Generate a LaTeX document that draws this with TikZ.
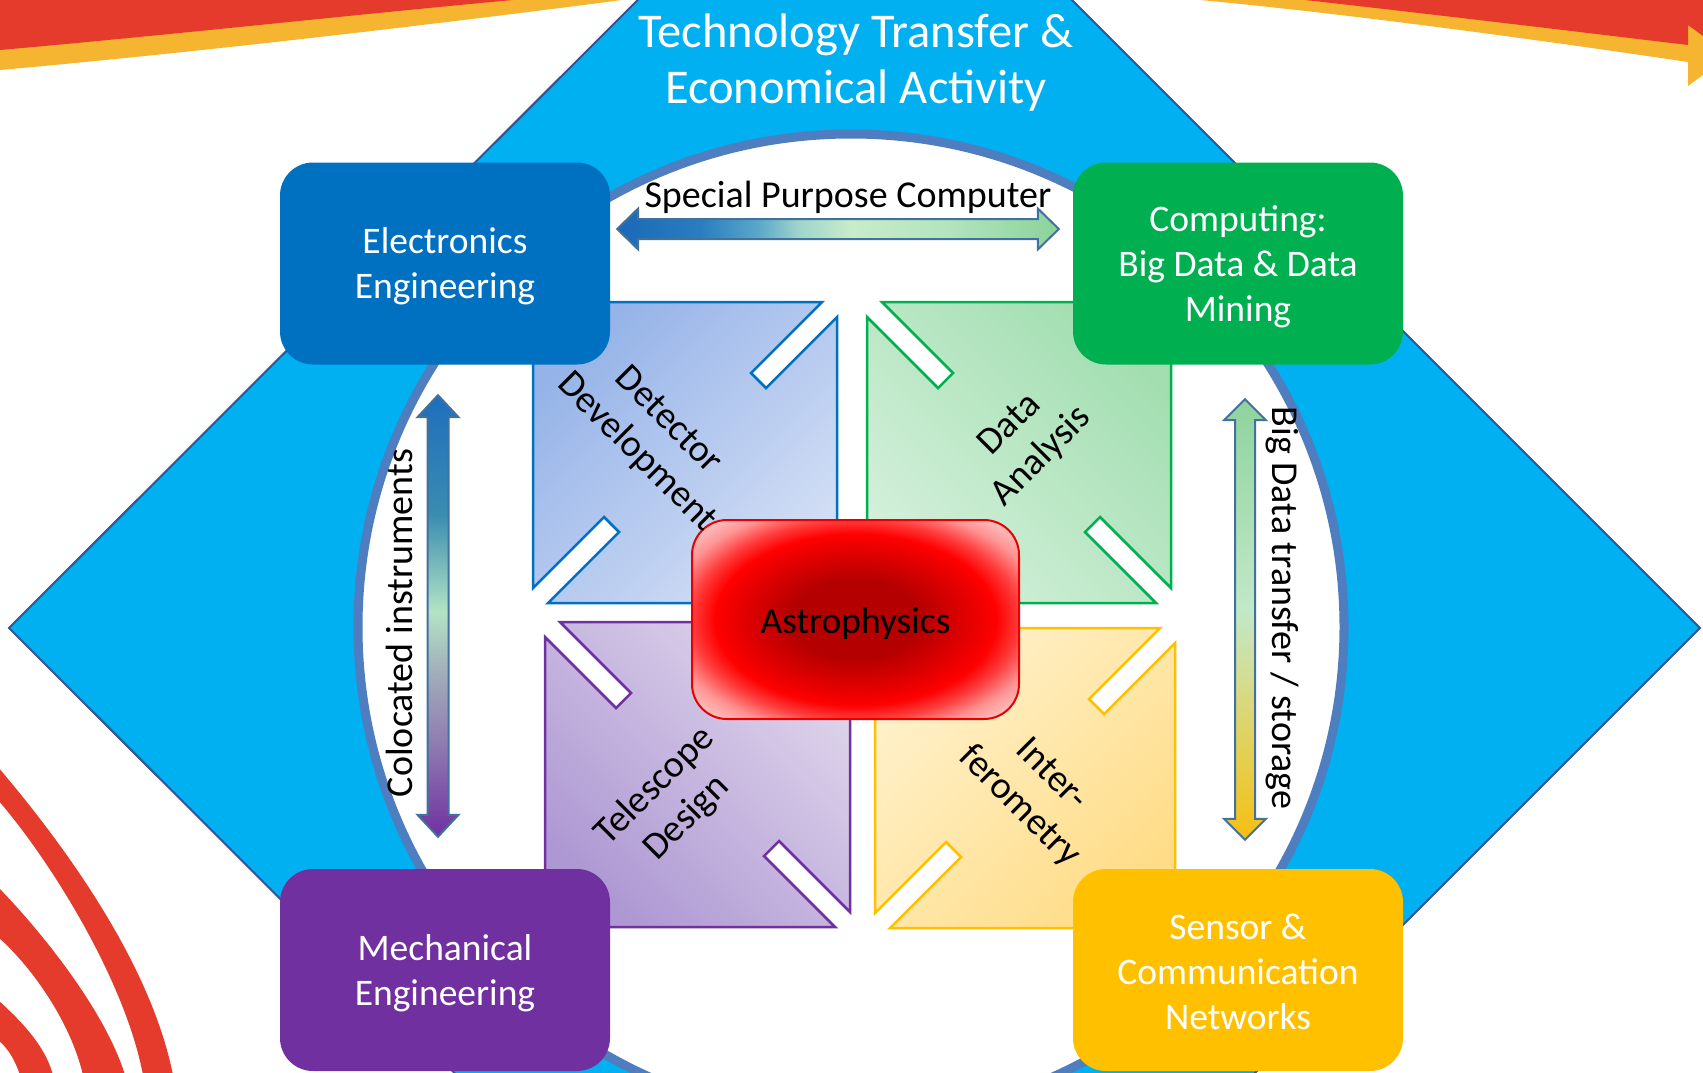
\documentclass[tikz,border=0pt]{standalone}
\usepackage{fontspec}
\setmainfont{Carlito}
\usetikzlibrary{calc}
\definecolor{dia}{HTML}{00B0F0}
\definecolor{diaedge}{HTML}{2F5597}
\definecolor{ringc}{HTML}{4F7EC0}
\definecolor{swred}{HTML}{E53B2C}
\definecolor{sworg}{HTML}{F6B530}
\definecolor{ebl}{HTML}{0070C0}
\definecolor{egr}{HTML}{00B050}
\definecolor{epu}{HTML}{7030A0}
\definecolor{eye}{HTML}{FFC000}
\definecolor{arredge}{HTML}{41719C}
\definecolor{astedge}{HTML}{E80000}
\definecolor{sqBdk}{HTML}{95B3E8}
\definecolor{sqBlt}{HTML}{D2DEF5}
\definecolor{sqGdk}{HTML}{A2DEB0}
\definecolor{sqGlt}{HTML}{D3F0DA}
\definecolor{sqPdk}{HTML}{AE98D3}
\definecolor{sqPlt}{HTML}{DED4EB}
\definecolor{sqYdk}{HTML}{FFDD88}
\definecolor{sqYlt}{HTML}{FFF1CB}
% arrow gradient colours
\definecolor{hA}{HTML}{1A68B8}
\definecolor{hB}{HTML}{2A7EC0}
\definecolor{hC}{HTML}{5AA8C8}
\definecolor{hD}{HTML}{9FD4CB}
\definecolor{hE}{HTML}{C8ECCA}
\definecolor{hF}{HTML}{B2E4BE}
\definecolor{hG}{HTML}{8BD29B}
\definecolor{cA}{HTML}{1F6EBE}
\definecolor{cB}{HTML}{3A8CB0}
\definecolor{cC}{HTML}{B3E3C5}
\definecolor{cD}{HTML}{A0A9B9}
\definecolor{cE}{HTML}{8E78B0}
\definecolor{cF}{HTML}{7030A0}
\definecolor{bA}{HTML}{8ED39D}
\definecolor{bB}{HTML}{C2E8C8}
\definecolor{bC}{HTML}{D0DF9E}
\definecolor{bD}{HTML}{DCD670}
\definecolor{bE}{HTML}{F6BF10}
\definecolor{astA}{HTML}{B50000}
\definecolor{astB}{HTML}{E80000}
\definecolor{astC}{HTML}{FF0000}
\definecolor{astD}{HTML}{FF3C3C}
\definecolor{astE}{HTML}{FF9494}
\definecolor{astF}{HTML}{FFE5E5}
\pgfdeclarehorizontalshading{spcshade}{100bp}{color(0bp)=(hA); color(25bp)=(hA); color(34.5bp)=(hB); color(41bp)=(hC); color(45.5bp)=(hD); color(51.5bp)=(hE); color(62.5bp)=(hF); color(75bp)=(hG); color(100bp)=(hG)}
\pgfdeclareverticalshading{colshade}{100bp}{color(0bp)=(cF); color(25bp)=(cF); color(35bp)=(cE); color(43bp)=(cD); color(50.5bp)=(cC); color(61.5bp)=(cB); color(75bp)=(cA); color(100bp)=(cA)}
\pgfdeclareverticalshading{bdshade}{100bp}{color(0bp)=(bE); color(25bp)=(bE); color(39bp)=(bD); color(45bp)=(bC); color(51bp)=(bB); color(75bp)=(bA); color(100bp)=(bA)}
\pgfdeclareradialshading{astroshade}{\pgfpoint{0bp}{0bp}}{color(0bp)=(astA); color(10bp)=(astA); color(18bp)=(astB); color(21.5bp)=(astC); color(25bp)=(astD); color(29bp)=(astE); color(36bp)=(astF); color(50bp)=(astF)}
\newcommand\bxfont{\fontsize{37.5}{45}\selectfont}
\newcommand\lbfont{\fontsize{38}{45}\selectfont}
\newcommand\ttlfont{\fontsize{48.5}{56}\selectfont}
\begin{document}
\begin{tikzpicture}[x=1pt,y=-1pt,
  bigbox/.style={rounded corners=33pt, minimum width=330pt, minimum height=202pt, inner sep=0pt},
  boxtext/.style={text=white, align=center, font=\bxfont, inner sep=0pt},
  quad/.style={align=center, font=\lbfont, text=black, inner sep=0pt},
  sqpath/.style={line width=2.5pt, line join=miter},
  dbl/.style={shade, draw=arredge, line width=2pt, line join=miter},
  lbl/.style={font=\lbfont, text=black, inner sep=0pt}]
\useasboundingbox (0,0) rectangle (1703,1072);
\clip (0,0) rectangle (1703,1072);
\fill[white] (0,0) rectangle (1703,1072);

% decorative swooshes
\fill[sworg] (0,0) -- (0,70) .. controls (200,52) and (430,25) .. (622,0) -- cycle;
\fill[swred] (0,0) -- (0,50) .. controls (170,35) and (360,14) .. (513,0) -- cycle;
\fill[sworg] (1200,0) .. controls (1350,14) and (1540,40) .. (1688,62) -- (1688,86) -- (1730,55) -- (1703,0) -- cycle;
\fill[swred] (1305,0) .. controls (1430,14) and (1580,32) .. (1688,45) -- (1688,25) -- (1703,36) -- (1703,0) -- cycle;
\fill[swred] (-2,767) .. controls (60,840) and (150,960) .. (173,1075) -- (143,1075) .. controls (125,980) and (50,860) .. (-2,800) -- cycle;
\fill[swred] (-2,887) .. controls (40,930) and (105,1010) .. (125,1075) -- (83,1075) .. controls (70,1020) and (30,965) .. (-2,937) -- cycle;
\fill[swred] (-2,1000) .. controls (20,1020) and (45,1045) .. (53,1075) -- (20,1075) .. controls (15,1060) and (8,1048) .. (-2,1040) -- cycle;

% diamond and circle
\filldraw[fill=dia, draw=diaedge, line width=2pt] (855,-217) -- (1700,628) -- (855,1473) -- (9,628) -- cycle;
\filldraw[fill=white, draw=ringc, line width=9pt] (851,627) circle[radius=493pt];

% quadrant squares
\path[sqpath, draw=ebl, top color=sqBdk, bottom color=sqBlt, shading angle=45]
  (533,302) -- (822,302) -- (751,373) -- (766,388) -- (837,317) -- (837,603) -- (548,603) -- (619,532) -- (604,517) -- (533,588) -- cycle;
\path[sqpath, draw=egr, top color=sqGdk, bottom color=sqGlt, shading angle=-45]
  (882,302) -- (1171,302) -- (1171,588) -- (1100,517) -- (1085,532) -- (1156,603) -- (867,603) -- (867,317) -- (938,388) -- (953,373) -- cycle;
\path[sqpath, draw=epu, top color=sqPlt, bottom color=sqPdk, shading angle=-45]
  (560,622) -- (850,622) -- (850,912) -- (779,841) -- (764,856) -- (835,927) -- (545,927) -- (545,637) -- (616,708) -- (631,693) -- cycle;
\path[sqpath, draw=eye, top color=sqYlt, bottom color=sqYdk, shading angle=45]
  (875,628) -- (1160,628) -- (1089,699) -- (1104,714) -- (1175,643) -- (1175,928) -- (890,928) -- (961,857) -- (946,842) -- (875,913) -- cycle;

% corner boxes
\node[bigbox, fill=ebl] (elec) at (445,263.5) {};
\node[bigbox, fill=egr] (comp) at (1238,263.5) {};
\node[bigbox, fill=epu] (mech) at (445,970) {};
\node[bigbox, fill=eye] (sens) at (1238,970) {};
\node[boxtext] (elecT) at ($(elec.center)+(0,3)$) {Electronics\\Engineering};
\node[boxtext] (compT) at ($(comp.center)+(0,3)$) {Computing:\\Big Data \& Data\\Mining};
\node[boxtext] (mechT) at ($(mech.center)+(0,3)$) {Mechanical\\Engineering};
\node[boxtext] (sensT) at ($(sens.center)+(0,2)$) {Sensor \&\\Communication\\Networks};

% connector end points
\coordinate (spcL) at ($(elec.east)+(7,-34.5)$);
\coordinate (spcR) at ($(comp.west)+(-14,-34.5)$);
\coordinate (colT) at ($(elec.south)+(-7,30.5)$);
\coordinate (colB) at ($(mech.north)+(-7,-32)$);
\coordinate (bdT) at ($(comp.south)+(7,34.5)$);
\coordinate (bdB) at ($(sens.north)+(7,-29)$);

% double arrows
\path[dbl, shading=spcshade] let \p1=(spcL), \p2=(spcR) in
  (\x1,\y1) -- (\x1+21pt,\y1+20.5pt) -- (\x1+21pt,\y1+10pt) -- (\x2-21pt,\y2+10pt) -- (\x2-21pt,\y2+20.5pt) -- (\x2,\y2)
  -- (\x2-21pt,\y2-20.5pt) -- (\x2-21pt,\y2-10pt) -- (\x1+21pt,\y1-10pt) -- (\x1+21pt,\y1-20.5pt) -- cycle;
\path[dbl, shading=colshade] let \p1=(colT), \p2=(colB) in
  (\x1,\y1) -- (\x1+20.5pt,\y1-22pt) -- (\x1+10.5pt,\y1-22pt) -- (\x2+10.5pt,\y2+22pt) -- (\x2+20.5pt,\y2+22pt) -- (\x2,\y2)
  -- (\x2-20.5pt,\y2+22pt) -- (\x2-10.5pt,\y2+22pt) -- (\x1-10.5pt,\y1-22pt) -- (\x1-20.5pt,\y1-22pt) -- cycle;
\path[dbl, shading=bdshade] let \p1=(bdT), \p2=(bdB) in
  (\x1,\y1) -- (\x1+21pt,\y1-21pt) -- (\x1+10pt,\y1-21pt) -- (\x2+10pt,\y2+21pt) -- (\x2+21pt,\y2+21pt) -- (\x2,\y2)
  -- (\x2-21pt,\y2+21pt) -- (\x2-10pt,\y2+21pt) -- (\x1-10pt,\y1-21pt) -- (\x1-21pt,\y1-21pt) -- cycle;

% centre box
\node[draw=astedge, line width=2pt, rounded corners=35pt, minimum width=327pt, minimum height=199pt,
      shade, shading=astroshade, inner sep=0pt] (astro) at (855.5,619.5) {};
\node[lbl, font=\bxfont] (astroT) at ($(astro.center)+(0,4)$) {Astrophysics};

% quadrant labels
\node[quad, rotate=-45] (detl) at (652,437) {Detector\\Development};
\node[quad, rotate=45] (datl) at (1026,441) {Data\\Analysis};
\node[quad, rotate=45] (tell) at (671,802) {Telescope\\Design};
\node[quad, rotate=-45] (intl) at (1035,791) {Inter-\\ferometry};

% texts
\node[font=\ttlfont, text=white, align=center, inner sep=0pt] (title) at (856,63) {Technology Transfer \&\\Economical Activity};
\node[lbl, anchor=base] (spclbl) at (848,207) {Special Purpose Computer};
\node[lbl, rotate=90] (collbl) at (399,623) {Colocated instruments};
\node[lbl, rotate=-90] (bdlbl) at (1282,608) {Big Data transfer / storage};
\end{tikzpicture}
\end{document}
